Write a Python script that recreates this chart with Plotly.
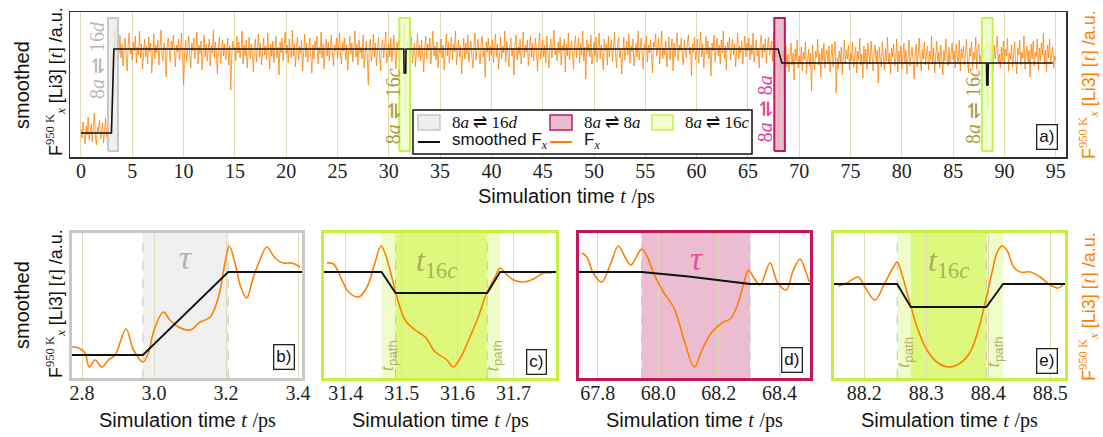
import numpy as np
import plotly.graph_objects as go

W, H = 1103, 437
SERIF = "Liberation Serif"
SANS = "Liberation Sans"
ORANGE = "#ff8000"
GRID = "#e2dab0"

# ---------------- DATA (y in arbitrary units) ----------------
# panel a: F_x sampled every 0.1 ps from 0 to 95 ps
fx_top = [
    28, 19, 35, 24, 13, 31, 22, 40, 17, 26, 33, 15, 27, 44, 21, 12, 30, 25, 37, 18, 23, 34, 14, 29, 39, 20, 26, 16, 32, 22,
    30, 62, 102, 129, 110, 96, 118, 104, 122, 99, 113, 91, 107, 119, 101, 86, 112, 124, 103, 109,
    97, 115, 106, 121, 94, 110, 102, 126, 99, 113, 88, 107, 118, 100, 111, 93, 120, 105, 114, 84,
    109, 123, 98, 112, 104, 117, 92, 108, 127, 101, 96, 114, 106, 80, 111, 119, 103, 95, 116, 108,
    122, 99, 90, 112, 105, 118, 97, 109, 124, 100,
    72, 104, 117, 95, 110, 121, 101, 89, 114, 106, 119, 98, 108, 125, 93, 112, 103, 116, 87, 109,
    122, 100, 113, 96, 107, 118, 91, 111, 104, 127, 99, 115, 102, 83, 110, 120, 94, 108, 117, 101,
    113, 97, 105, 119, 92, 111, 67, 103, 116, 107,
    110, 96, 121, 104, 115, 99, 108, 126, 93, 112, 101, 117, 89, 106, 120, 98, 113, 103, 85, 110,
    118, 95, 107, 123, 100, 114, 92, 109, 119, 102, 111, 97, 124, 105, 88, 113, 101, 116, 94, 108,
    121, 99, 110, 82, 115, 104, 119, 96, 107, 125,
    103, 112, 94, 118, 106, 99, 127, 101, 113, 90, 108, 120, 97, 111, 104, 117, 86, 109, 123, 100,
    114, 95, 106, 119, 102, 84, 112, 98, 116, 107, 121, 93, 110, 103, 125, 99, 113, 88, 108, 118,
    101, 115, 96, 109, 122, 104, 91, 112, 106, 119,
    98, 110, 124, 101, 93, 115, 106, 119, 97, 112, 87, 108, 121, 103, 114, 95, 109, 126, 100, 113,
    92, 117, 104, 110, 98, 122, 89, 107, 116, 101, 72, 111, 118, 96, 105, 123, 100, 114, 91, 108,
    120, 103, 86, 112, 117, 99, 109, 125, 94, 106,
    113, 100, 119, 95, 108, 122, 103, 88, 115, 106, 118, 97, 110, 101, 93, 132, 45, 102, 116, 108,
    99, 111, 120, 94, 107, 114, 90, 105, 123, 100, 112, 96, 117, 104, 85, 109, 121, 98, 113, 106,
    119, 93, 108, 126, 101, 111, 97, 115, 89, 107,
    104, 118, 99, 112, 87, 110, 123, 101, 115, 94, 108, 120, 97, 113, 105, 126, 92, 109, 117, 100,
    111, 83, 106, 119, 98, 114, 103, 122, 95, 110, 116, 101, 89, 112, 124, 97, 107, 118, 104, 93,
    113, 121, 100, 108, 80, 115, 105, 119, 96, 111,
    102, 117, 94, 109, 123, 100, 113, 88, 107, 120, 98, 111, 104, 126, 95, 116, 106, 90, 112, 119,
    101, 108, 82, 114, 122, 97, 110, 103, 118, 93, 107, 125, 99, 112, 105, 117, 91, 109, 121, 100,
    114, 96, 108, 119, 103, 86, 111, 124, 98, 106,
    117, 100, 112, 94, 121, 105, 89, 110, 118, 99, 113, 127, 102, 108, 96, 115, 104, 120, 92, 111,
    106, 118, 85, 113, 101, 124, 97, 109, 116, 103, 88, 112, 121, 99, 107, 119, 94, 114, 102, 126,
    96, 110, 78, 117, 105, 113, 100, 122, 93, 108,
    115, 101, 120, 95, 109, 124, 98, 112, 104, 87, 118, 106, 113, 92, 121, 100, 110, 117, 96, 108,
    125, 103, 89, 114, 119, 99, 107, 83, 112, 120, 97, 109, 116, 102, 123, 94, 111, 105, 118, 91,
    106, 114, 100, 126, 97, 110, 119, 103, 88, 113,
    108, 121, 95, 112, 104, 117, 99, 84, 115, 110, 123, 101, 107, 119, 93, 113, 126, 98, 109, 102,
    116, 90, 111, 120, 97, 105, 118, 86, 114, 100, 109, 124, 96, 112, 106, 119, 101, 92, 117, 108,
    99, 115, 122, 103, 110, 81, 113, 105, 120, 97,
    111, 118, 94, 107, 125, 100, 113, 89, 109, 121, 103, 116, 98, 110, 81, 114, 106, 122, 95, 108,
    119, 101, 112, 93, 117, 104, 126, 99, 111, 87, 115, 107, 120, 97, 109, 118, 102, 113, 90, 106,
    124, 98, 111, 104, 116, 93, 108, 121, 100, 114,
    106, 119, 97, 112, 103, 124, 95, 110, 117, 101, 108, 89, 115, 122, 99, 113, 105, 118, 94, 111,
    120, 102, 107, 116, 96, 125, 104, 112, 100, 118, 12, 84, 100, 88, 106, 79, 97, 111, 90, 103,
    85, 99, 114, 92, 104, 77, 108, 96, 117, 89,
    101, 93, 110, 86, 105, 97, 115, 83, 99, 108, 91, 104, 66, 112, 95, 87, 106, 100, 118, 92,
    103, 80, 109, 96, 114, 89, 101, 107, 94, 111, 85, 98, 113, 90, 104, 116, 64, 99, 88, 106,
    95, 110, 82, 102, 117, 93, 107, 98, 112, 87,
    104, 96, 115, 89, 100, 110, 84, 106, 97, 119, 92, 103, 79, 111, 95, 108, 88, 114, 101, 93,
    116, 99, 86, 105, 112, 94, 107, 74, 110, 98, 90, 115, 102, 87, 108, 96, 120, 93, 104, 83,
    109, 100, 113, 91, 97, 118, 85, 106, 95, 111,
    88, 102, 114, 94, 107, 83, 99, 117, 91, 105, 110, 96, 78, 104, 113, 90, 101, 119, 95, 86,
    108, 98, 115, 92, 103, 111, 87, 106, 97, 121, 93, 109, 84, 100, 116, 95, 105, 89, 112, 99,
    82, 107, 96, 118, 101, 91, 110, 94, 103, 114,
    97, 106, 89, 113, 100, 94, 117, 86, 108, 99, 111, 92, 104, 118, 96, 84, 109, 101, 115, 90,
    105, 97, 120, 88, 107, 113, 93, 102, 85, 110, 99, 92, 106, 115, 49, 101, 118, 91, 104, 87,
    112, 98, 107, 121, 94, 103, 89, 110, 96, 116,
    93, 108, 101, 119, 86, 104, 97, 112, 90, 106, 115, 95, 83, 109, 102, 117, 92, 105, 99, 121,
    88, 103, 111, 94, 107, 80, 113, 98, 116, 91, 105, 100, 118, 87, 109, 96, 114, 102, 124, 93,
    107, 85, 112, 99, 118, 94, 103, 110, 89, 101,
    97,
]
TOP_DT = 0.1
t_top = np.round(np.arange(len(fx_top)) * TOP_DT, 1)

smooth_top_t = [0, 2.969, 3.206, 31.464, 31.489, 31.653, 31.676, 67.945, 68.303,
                88.253, 88.275, 88.397, 88.424, 94.7]
smooth_top_v = [24, 24, 108, 108, 84, 84, 108, 108, 94, 94, 72, 72, 94, 94]

top_ticks = list(range(0, 96, 5))

# transition windows marked in panel a
band_kind = ["16d", "16c", "8a", "16c"]
band_t0 = [2.63, 31.02, 67.57, 87.80]
band_t1 = [3.61, 32.07, 68.60, 88.85]

# panel b (8a -> 16d)
b_t = [2.771, 2.790, 2.808, 2.820, 2.836, 2.855, 2.873, 2.892, 2.922, 2.943, 2.969, 2.984,
       3.000, 3.026, 3.044, 3.068, 3.100, 3.128, 3.156, 3.179, 3.197, 3.209, 3.225, 3.241,
       3.257, 3.276, 3.294, 3.313, 3.336, 3.359, 3.382, 3.406]
b_fx = [31, 30, 25, 11, 18, 11, 18, 23, 49, 28, 16, 25,
        48, 66, 58, 51, 48, 56, 61, 81, 115, 132, 115, 91,
        80, 101, 118, 131, 120, 115, 115, 111]
b_st = [2.772, 2.969, 3.206, 3.411]
b_sv = [23, 23, 106, 106]
b_ticks = [2.8, 3.0, 3.2, 3.4]

# panel c (8a -> 16c at 31.5 ps)
c_t = [31.366, 31.378, 31.393, 31.405, 31.423, 31.438, 31.452, 31.463, 31.470, 31.479,
       31.492, 31.506, 31.524, 31.542, 31.560, 31.581, 31.592, 31.605, 31.622, 31.637,
       31.652, 31.667, 31.676, 31.685, 31.700, 31.718, 31.736, 31.754, 31.769]
c_fx = [115, 114, 98, 86, 81, 91, 115, 132, 125, 108,
        80, 58, 48, 41, 26, 18, 11, 20, 41, 61,
        85, 101, 110, 105, 98, 96, 99, 105, 105]
c_st = [31.361, 31.464, 31.489, 31.653, 31.676, 31.776]
c_sv = [106, 106, 85, 85, 106, 106]
c_ticks = [31.4, 31.5, 31.6, 31.7]

# panel d (8a -> 8a at 68 ps)
d_t = [67.747, 67.764, 67.785, 67.813, 67.841, 67.868, 67.890, 67.909, 67.929, 67.945,
       67.964, 67.984, 68.017, 68.050, 68.066, 68.088, 68.119, 68.144, 68.177, 68.215,
       68.237, 68.259, 68.281, 68.298, 68.316, 68.336, 68.369, 68.393, 68.422, 68.446,
       68.468, 68.485, 68.499]
d_fx = [125, 121, 105, 96, 113, 132, 121, 113, 122, 129,
        121, 105, 86, 71, 58, 35, 11, 28, 46, 56,
        59, 71, 93, 108, 100, 93, 115, 96, 88, 108,
        119, 108, 96]
d_st = [67.738, 67.945, 68.100, 68.200, 68.303, 68.501]
d_sv = [106, 106, 101.5, 98, 94, 94]
d_ticks = [67.8, 68.0, 68.2, 68.4]

# panel e (8a -> 16c at 88.3 ps)
e_t = [88.158, 88.172, 88.190, 88.201, 88.217, 88.233, 88.247, 88.253, 88.260, 88.271,
       88.285, 88.301, 88.317, 88.336, 88.355, 88.371, 88.384, 88.395, 88.406, 88.414,
       88.422, 88.430, 88.441, 88.452, 88.468, 88.484, 88.500, 88.513, 88.521]
e_fx = [92, 95, 101, 91, 78, 95, 111, 116, 105, 81,
        51, 28, 16, 11, 15, 26, 48, 75, 105, 125,
        132, 128, 111, 106, 106, 101, 93, 90, 93]
e_st = [88.151, 88.253, 88.275, 88.397, 88.424, 88.524]
e_sv = [94, 94, 71, 71, 94, 94]
e_ticks = [88.2, 88.3, 88.4, 88.5]

# ---------------- styles ----------------
band_style = {
    "16d": dict(fill="rgba(236,236,236,0.85)", line="#c8c8c8", text="#b8b8b8"),
    "8a": dict(fill="rgba(232,176,200,0.85)", line="#c2185b", text="#e8409a"),
    "16c": dict(fill="rgba(236,255,196,0.85)", line="#c8f050", text="#a8a040"),
}
band_label = {"16d": "8<i>a</i> ⇌ 16<i>d</i>", "8a": "8<i>a</i> ⇌ 8<i>a</i>",
              "16c": "8<i>a</i> ⇌ 16<i>c</i>"}
band_label_pos = [(1.56, 97), (30.44, 51), (66.7, 48), (86.94, 51)]


def px(x):
    return x / W


def py(y):
    return 1 - y / H


def sf(s):
    return f'<span style="font-family:{SERIF}">{s}</span>'


XTITLE = "Simulation time " + sf("<i>t</i>") + " " + sf("/ps")
FLABEL = ("F" + sf("<sup>950 K</sup><sub><i>x</i></sub>") + " [Li3] " +
          sf("[<i>t</i>]") + " /a.u.")

fig = go.Figure()

# ---- panel a traces ----
fig.add_trace(go.Scatter(x=t_top, y=fx_top, mode="lines",
                         line=dict(color="rgba(255,128,0,0.85)", width=0.9), xaxis="x", yaxis="y",
                         showlegend=False, hoverinfo="skip"))
BY0, BY1 = 6, 139
for k, t0, t1 in zip(band_kind, band_t0, band_t1):
    st = band_style[k]
    fig.add_trace(go.Scatter(x=[t0, t1, t1, t0, t0], y=[BY0, BY0, BY1, BY1, BY0],
                             mode="lines", fill="toself", fillcolor=st["fill"],
                             line=dict(color=st["line"], width=2), xaxis="x", yaxis="y",
                             showlegend=False, hoverinfo="skip"))
fig.add_trace(go.Scatter(x=smooth_top_t, y=smooth_top_v, mode="lines",
                         line=dict(color="#111111", width=1.6), xaxis="x", yaxis="y",
                         showlegend=False, hoverinfo="skip"))

# ---- bottom panels ----
panels = [
    dict(t=b_t, fx=b_fx, st=b_st, sv=b_sv, ticks=b_ticks, x0=72, x1=302, rng=[2.772, 3.411],
         border="#c8c8c8", bands=[(2.969, 3.206, "#f0f0f0")], dashes=[2.969, 3.206]),
    dict(t=c_t, fx=c_fx, st=c_st, sv=c_sv, ticks=c_ticks, x0=324, x1=556, rng=[31.361, 31.776],
         border="#c6f03c", bands=[(31.464, 31.676, "#effcca"), (31.489, 31.653, "#def87e")],
         dashes=[31.489, 31.653]),
    dict(t=d_t, fx=d_fx, st=d_st, sv=d_sv, ticks=d_ticks, x0=579, x1=810, rng=[67.738, 68.501],
         border="#c2185b", bands=[(67.945, 68.303, "#ecbcd0")], dashes=[67.945, 68.303]),
    dict(t=e_t, fx=e_fx, st=e_st, sv=e_sv, ticks=e_ticks, x0=834, x1=1065, rng=[88.151, 88.524],
         border="#c6f03c", bands=[(88.253, 88.424, "#effcca"), (88.275, 88.397, "#def87e")],
         dashes=[88.253, 88.397]),
]

shapes = []
annotations = []
layout_axes = {}

layout_axes["xaxis"] = dict(domain=[px(70), px(1066)], range=[-1.07, 96.0], anchor="y",
                            tickvals=top_ticks, ticktext=[str(v) for v in top_ticks],
                            showgrid=True, gridcolor=GRID, gridwidth=1, zeroline=False,
                            showline=True, mirror=True, linecolor="#333333", linewidth=1.5,
                            ticks="", ticklabelstandoff=-5,
                            tickfont=dict(family=SERIF, size=20, color="#222"),
                            automargin=False)
layout_axes["yaxis"] = dict(domain=[py(157), py(12)], range=[0, 145], anchor="x",
                            showticklabels=False, showgrid=False, zeroline=False,
                            showline=True, mirror=True, linecolor="#333333", linewidth=1.5,
                            ticks="", automargin=False)

for i, p in enumerate(panels, start=2):
    xa, ya = f"x{i}", f"y{i}"
    fig.add_trace(go.Scatter(x=p["t"], y=p["fx"], mode="lines",
                             line=dict(color=ORANGE, width=1.6, shape="spline", smoothing=1.0),
                             xaxis=xa, yaxis=ya, showlegend=False, hoverinfo="skip"))
    fig.add_trace(go.Scatter(x=p["st"], y=p["sv"], mode="lines",
                             line=dict(color="#111111", width=1.8),
                             xaxis=xa, yaxis=ya, showlegend=False, hoverinfo="skip"))
    layout_axes[f"xaxis{i}"] = dict(domain=[px(p["x0"]), px(p["x1"])], range=p["rng"], anchor=ya,
                                    tickvals=p["ticks"], ticktext=[f"{v:.1f}" for v in p["ticks"]],
                                    showgrid=True, gridcolor=GRID, gridwidth=1, zeroline=False,
                                    showline=True, mirror=True, linecolor=p["border"], linewidth=3,
                                    ticks="", ticklabelstandoff=-5,
                                    tickfont=dict(family=SERIF, size=20, color="#222"),
                                    automargin=False)
    layout_axes[f"yaxis{i}"] = dict(domain=[py(378), py(233)], range=[0, 145], anchor=xa,
                                    showticklabels=False, showgrid=False, zeroline=False,
                                    showline=True, mirror=True, linecolor=p["border"], linewidth=3,
                                    ticks="", automargin=False)
    for (a0, a1, col) in p["bands"]:
        shapes.append(dict(type="rect", xref=xa, yref=f"{ya} domain", x0=a0, x1=a1, y0=0, y1=1,
                           fillcolor=col, line=dict(width=0), layer="below"))
    for dx in p["dashes"]:
        shapes.append(dict(type="line", xref=xa, yref=f"{ya} domain", x0=dx, x1=dx, y0=0, y1=1,
                           line=dict(color="#c4c4c4", width=1, dash="dash"), layer="below"))
    annotations.append(dict(text=XTITLE, xref="paper", yref="paper",
                            x=px((p["x0"] + p["x1"]) / 2), y=py(420), xanchor="center", yanchor="middle",
                            showarrow=False, font=dict(family=SANS, size=20, color="#111")))

# panel tags
tag_pos = [("a)", 1046.5, 137), ("b)", 284, 357), ("c)", 536, 362), ("d)", 792, 360), ("e)", 1047, 361)]
for txt, x, y in tag_pos:
    annotations.append(dict(text=txt, xref="paper", yref="paper", x=px(x), y=py(y),
                            xanchor="center", yanchor="middle", showarrow=False,
                            bordercolor="#222", borderwidth=1.3, borderpad=2, bgcolor="white",
                            font=dict(family=SANS, size=17, color="#111")))

# band labels in panel a
for k, (x, y) in zip(band_kind, band_label_pos):
    annotations.append(dict(text=band_label[k], x=x, y=y, xref="x", yref="y", textangle=-90,
                            xanchor="center", yanchor="middle", showarrow=False,
                            font=dict(family=SERIF, size=20, color=band_style[k]["text"])))

# inner panel labels
OLIVE = "rgba(160,150,70,0.75)"
TPATH = "<i>t</i><sub>" + '<span style="font-family:Liberation Sans">path</span>' + "</sub>"
inner = [
    ("x2", "y2", 3.09, 121, "<i>τ</i>", "#b4b4b4", 34, 0),
    ("x3", "y3", 31.563, 116, "<i>t</i><sub>16<i>c</i></sub>", OLIVE, 32, 0),
    ("x3", "y3", 31.476, 22, TPATH, OLIVE, 19, -90),
    ("x3", "y3", 31.664, 22, TPATH, OLIVE, 19, -90),
    ("x4", "y4", 68.127, 120, "<i>τ</i>", "#e8509a", 34, 0),
    ("x5", "y5", 88.336, 116, "<i>t</i><sub>16<i>c</i></sub>", OLIVE, 32, 0),
    ("x5", "y5", 88.264, 26, TPATH, OLIVE, 19, -90),
    ("x5", "y5", 88.41, 26, TPATH, OLIVE, 19, -90),
]
for xa, ya, x, y, txt, col, sz, ang in inner:
    annotations.append(dict(text=txt, x=x, y=y, xref=xa, yref=ya, textangle=ang,
                            xanchor="center", yanchor="middle", showarrow=False,
                            font=dict(family=SERIF, size=sz, color=col)))

# axis titles
annotations.append(dict(text=XTITLE, xref="paper", yref="paper", x=px(566), y=py(196),
                        xanchor="center", yanchor="middle", showarrow=False,
                        font=dict(family=SANS, size=20, color="#111")))
for yc in (85, 305):
    annotations.append(dict(text="smoothed", xref="paper", yref="paper", x=px(22), y=py(yc),
                            textangle=-90, xanchor="center", yanchor="middle", showarrow=False,
                            font=dict(family=SANS, size=20, color="#111")))
for yc in (82, 304):
    annotations.append(dict(text=FLABEL, xref="paper", yref="paper", x=px(55), y=py(yc),
                            textangle=-90, xanchor="center", yanchor="middle", showarrow=False,
                            font=dict(family=SANS, size=18, color="#111")))
    annotations.append(dict(text=FLABEL, xref="paper", yref="paper", x=px(1088), y=py(yc + 3),
                            textangle=-90, xanchor="center", yanchor="middle", showarrow=False,
                            font=dict(family=SANS, size=18, color=ORANGE)))

# manual legend box in panel a
shapes.append(dict(type="rect", xref="paper", yref="paper", x0=px(413), x1=px(752),
                   y0=py(154), y1=py(110), fillcolor="white", line=dict(color="#111", width=1.5),
                   layer="above"))
leg_patches = [("16d", 418, 440), ("8a", 550, 572), ("16c", 652, 673)]
for k, a, b in leg_patches:
    st = band_style[k]
    shapes.append(dict(type="rect", xref="paper", yref="paper", x0=px(a), x1=px(b),
                       y0=py(130), y1=py(115), fillcolor=st["fill"],
                       line=dict(color=st["line"], width=1.5), layer="above"))
    annotations.append(dict(text=band_label[k], xref="paper", yref="paper", x=px(b + 10), y=py(122),
                            xanchor="left", yanchor="middle", showarrow=False,
                            font=dict(family=SERIF, size=17, color="#111")))
leg_lines = [("#111111", 418, 440, "smoothed F" + sf("<sub><i>x</i></sub>")),
             (ORANGE, 550, 572, "F" + sf("<sub><i>x</i></sub>"))]
for col, a, b, txt in leg_lines:
    shapes.append(dict(type="line", xref="paper", yref="paper", x0=px(a), x1=px(b),
                       y0=py(142), y1=py(142), line=dict(color=col, width=2), layer="above"))
    annotations.append(dict(text=txt, xref="paper", yref="paper", x=px(b + 10), y=py(141),
                            xanchor="left", yanchor="middle", showarrow=False,
                            font=dict(family=SANS, size=17, color="#111")))

fig.update_layout(
    template="none",
    width=W, height=H,
    margin=dict(l=0, r=0, t=0, b=0),
    paper_bgcolor="white", plot_bgcolor="white",
    font=dict(family=SANS, size=16, color="#111"),
    showlegend=False,
    shapes=shapes,
    annotations=annotations,
    **layout_axes,
)

fig.write_html("out.html", config={"displayModeBar": False, "staticPlot": True},
               post_script="document.body.style.margin='0px';")
